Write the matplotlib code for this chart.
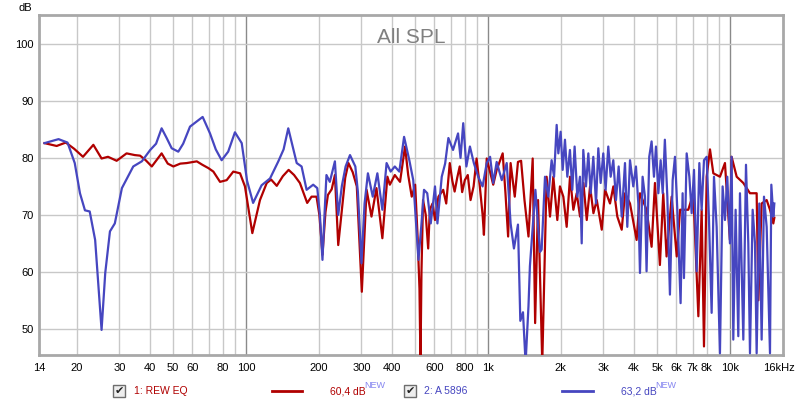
import matplotlib
matplotlib.use("Agg")
import matplotlib.pyplot as plt
from matplotlib.patches import Rectangle
from matplotlib.lines import Line2D

plt.rcParams['font.family'] = ['Liberation Sans', 'DejaVu Sans']

# --- data (Hz, dB) ---
red_freq = [14.7, 16.5, 18.0, 19.5, 21.2, 23.4, 25.3, 26.9, 29.2, 32.1, 34.7, 36.5, 38.5,
            40.8, 44.8, 47.5, 50.1, 53.5, 56.9, 62.6, 66.0, 70.0, 73.3, 78.1, 83.2, 88.6,
            94.5, 99.0, 106.2, 114.2, 121.8, 127, 134, 142, 150, 158, 167, 179, 186.6,
            195.6, 201, 207, 213, 218, 226, 233, 240.5, 248.6, 257, 265, 276, 287, 301,
            315, 330, 346, 366, 384, 393, 412, 433, 454, 468, 484, 500, 512, 521, 526,
            531, 539, 553, 566, 575, 590, 604, 624, 653, 672, 695, 712, 728, 746, 764,
            782, 802, 825, 847, 872, 897, 925, 950, 962, 988, 1051, 1086, 1150, 1180,
            1211, 1240, 1290, 1330, 1370, 1415, 1470, 1530, 1566, 1610, 1676,
            1747, 1804, 1862, 1934, 1983, 2048, 2114, 2182, 2253, 2326, 2401, 2479, 2559,
            2641, 2727, 2815, 2952, 3047, 3193, 3296, 3423, 3569, 3683, 3862, 4113, 4246,
            4521, 4743, 4897, 5133, 5299, 5469, 5740, 6024, 6219, 6726, 7055, 7401, 7636,
            7808, 8010, 8267, 8533, 9089, 9532, 9994, 10155, 10658, 11352, 12095, 12887,
            13100, 13515, 14175, 14632, 15103, 15250]
red_db = [82.6, 82.1, 82.7, 81.6, 80.2, 82.3, 79.9, 80.2, 79.5, 80.8, 80.5, 80.4, 79.6,
          78.5, 80.8, 79.0, 78.5, 79.0, 79.1, 79.4, 78.8, 78.2, 77.6, 75.8, 76.1, 77.6,
          77.3, 75.0, 66.8, 72.6, 75.6, 76.2, 75.1, 76.8, 77.9, 77.0, 75.6, 72.1, 73.2,
          73.2, 70.0, 63.0, 70.5, 73.5, 74.5, 77.0, 64.7, 70.6, 76.5, 79.1, 77.5, 75.0,
          56.5, 74.4, 69.7, 74.7, 65.9, 76.7, 75.3, 77.0, 75.8, 82.0, 77.0, 73.2, 75.3,
          66.0, 57.0, 44.0, 60.0, 72.6, 70.0, 64.1, 70.9, 72.0, 69.1, 73.2, 74.4, 72.0,
          79.1, 76.0, 74.1, 76.5, 78.5, 74.0, 76.1, 77.0, 72.6, 75.0, 79.9, 75.0, 70.0,
          66.5, 79.9, 75.3, 77.9, 80.8, 74.0, 66.2, 79.1, 73.2, 79.3, 79.5, 72.6, 66.2,
          79.9, 51.0, 72.6, 44.0,
          76.7, 69.7, 76.7, 69.1, 75.0, 73.2, 67.9, 76.7, 70.9, 73.8, 69.7, 75.6, 69.1,
          75.0, 70.3, 72.6, 67.4, 74.4, 72.0, 75.0, 69.7, 67.4, 73.8, 72.0, 65.6, 73.8,
          70.9, 64.4, 75.6, 61.2, 73.8, 62.7, 73.2, 62.7, 70.9, 70.9, 73.8, 52.2, 70.9,
          46.9, 76.7, 81.5, 77.3, 76.7, 79.1, 65.6, 80.2, 76.7, 75.6, 73.8, 73.8,
          55.0, 72.0, 72.6, 70.9, 68.5, 69.5]

blue_freq = [14.7, 16.8, 18.3, 19.6, 20.6, 21.6, 22.6, 23.8, 25.3, 26.2, 27.4, 28.7, 30.7,
             34.2, 37.1, 40.2, 42.5, 44.8, 47.0, 49.3, 52.5, 55.0, 58.7, 66.2, 71.0, 75.0,
             79.3, 84.4, 90.0, 96.0, 101, 107, 116, 125.7, 136, 143, 149.5, 156, 162,
             169.7, 178, 189.5, 197, 202, 207, 211, 215, 222, 233, 240.5, 249, 258, 269,
             283, 290, 300, 309, 319, 334, 349, 366, 381, 396, 412, 430, 450, 473, 491,
             516, 530, 544, 561, 580, 604, 618, 644, 665, 686, 717, 752, 770, 790, 814,
             842, 874, 911, 950, 988, 1020, 1051, 1086, 1140, 1195, 1240, 1280, 1330,
             1360, 1395, 1430, 1470, 1490, 1570, 1640,
             1666, 1720, 1775, 1832, 1875, 1922, 1953, 1996, 2035, 2080, 2127, 2181, 2230,
             2280, 2340, 2399, 2439, 2476, 2540, 2598, 2657, 2724, 2795, 2857, 2921, 2995,
             3062, 3141, 3213, 3295, 3380, 3467, 3569, 3682, 3764, 3862, 3984, 4087, 4180,
             4246, 4354, 4453, 4521, 4638, 4743, 4851, 4945, 5058, 5169, 5271, 5381, 5509,
             5647, 5796, 5925, 6058, 6250, 6371, 6453, 6622, 6793, 6944, 7101, 7282, 7470,
             7636, 7808, 8010, 8189, 8398, 8587, 8807, 9089, 9322, 9532, 9747, 9994, 10155,
             10319, 10550, 10822, 10996, 11352, 11644, 11903, 12095, 12407, 12684, 12887,
             13218, 13515, 13820, 14175, 14632, 14820, 15103, 15250]
blue_db = [82.6, 83.3, 82.7, 79.1, 73.8, 70.8, 70.6, 65.6, 49.8, 59.8, 67.1, 68.5, 74.7,
           78.5, 79.4, 81.4, 82.5, 85.2, 83.5, 81.7, 81.1, 82.5, 85.5, 87.2, 84.3, 81.5,
           79.6, 81.1, 84.5, 82.6, 76.0, 72.1, 75.2, 76.4, 79.4, 81.5, 85.2, 82.0, 79.1,
           78.5, 74.4, 75.3, 74.7, 70.0, 62.1, 70.0, 77.0, 75.8, 79.4, 70.0, 75.1, 78.5,
           80.5, 78.5, 74.0, 61.5, 72.0, 77.3, 73.2, 77.3, 70.9, 79.1, 77.6, 78.5, 77.6,
           83.7, 79.6, 76.1, 62.1, 68.0, 74.4, 73.8, 68.5, 75.0, 68.5, 76.7, 79.0, 83.5,
           81.4, 84.3, 80.0, 86.1, 78.5, 82.0, 79.1, 76.7, 75.0, 79.1, 80.2, 75.6, 79.3,
           76.1, 79.1, 68.5, 64.1, 68.3, 51.4, 52.9, 44.0, 54.0, 61.0, 74.4, 63.5,
           63.9, 76.7, 73.2, 79.6, 76.7, 85.8, 80.8, 84.6, 77.9, 83.2, 76.7, 81.4, 74.4,
           82.0, 73.2, 76.7, 65.0, 81.4, 75.0, 80.8, 73.8, 80.2, 72.0, 81.7, 75.6, 80.8,
           74.4, 82.0, 76.7, 79.6, 72.6, 78.5, 69.7, 79.1, 67.9, 79.6, 75.0, 78.5, 72.0,
           59.8, 76.7, 73.2, 60.1, 80.2, 82.9, 76.7, 82.0, 73.8, 79.6, 73.8, 83.2, 73.2,
           56.0, 76.1, 80.2, 70.9, 54.5, 73.8, 58.9, 80.8, 76.7, 70.3, 77.9, 60.1, 79.1,
           70.9, 79.6, 80.2, 69.1, 52.8, 76.7, 67.9, 45.7, 75.0, 69.1, 76.7, 65.0, 80.2,
           48.1, 70.9, 48.7, 73.8, 48.1, 78.8, 65.0, 45.7, 70.9, 65.0, 45.7,
           72.0, 48.1, 73.2, 67.9, 45.7, 75.3, 69.7, 72.0]

xtick_vals = [14, 20, 30, 40, 50, 60, 80, 100, 200, 300, 400, 600, 800, 1000, 2000, 3000,
              4000, 5000, 6000, 7000, 8000, 10000, 16000]
xtick_labels = ['14', '20', '30', '40', '50', '60', '80', '100', '200', '300', '400', '600',
                '800', '1k', '2k', '3k', '4k', '5k', '6k', '7k', '8k', '10k', '16kHz']
ytick_vals = [50, 60, 70, 80, 90, 100]

RED = '#B00000'
BLUE = '#4646C0'

fig = plt.figure(figsize=(8, 4.05), dpi=100)
ax = fig.add_axes([0.04875, 0.1235, 0.93, 0.8395])
ax.set_xscale('log')
ax.set_xlim(13.95, 16560)
ax.set_ylim(45.4, 105.1)

# grid: light lines at 2..9 of each decade, darker at decades
for dec in [10, 100, 1000, 10000]:
    for m in range(1, 10):
        f = dec * m
        if f <= 14 or f >= 16500:
            continue
        c = '#8A8A8A' if m == 1 else '#C8C8C8'
        ax.axvline(f, color=c, lw=1.0, zorder=1)
for y in ytick_vals:
    ax.axhline(y, color='#C8C8C8', lw=1.0, zorder=1)

ax.plot(red_freq, red_db, color=RED, lw=1.6, zorder=3)
ax.plot(blue_freq, blue_db, color=BLUE, lw=1.6, zorder=4)

ax.set_xticks(xtick_vals)
ax.set_xticklabels(xtick_labels)
ax.xaxis.set_minor_locator(matplotlib.ticker.NullLocator())
ax.set_yticks(ytick_vals)
ax.tick_params(axis='both', length=0, labelsize=8, colors='black')
ax.tick_params(axis='x', pad=6)
ax.tick_params(axis='y', pad=4)
for s in ax.spines.values():
    s.set_color('#A8A8A8')
    s.set_linewidth(2)

ax.text(0.5, 0.935, 'All SPL', transform=ax.transAxes, ha='center', va='center',
        fontsize=15, color='#808080')
fig.text(25 / 800, 1 - 8 / 405, 'dB', ha='center', va='center', fontsize=8)


# legend row, placed in pixel terms
def fx(px):
    return px / 800


def fy(py):
    return 1 - py / 405


def checkbox(px):
    fig.patches.append(Rectangle((fx(px), fy(397)), 12 / 800, 12 / 405,
                                 transform=fig.transFigure, fc='#EEEEEE', ec='#6E6E6E', lw=1))
    fig.text(fx(px + 6), fy(391), '\u2714', ha='center', va='center', fontsize=8,
             color='#222222', family=['DejaVu Sans'])


ly = fy(391)
checkbox(113)
fig.text(fx(134), ly, '1: REW EQ', ha='left', va='center', fontsize=7.5, color=RED)
fig.lines.append(Line2D([fx(272), fx(302)], [ly, ly], transform=fig.transFigure,
                        color=RED, lw=2))
fig.text(fx(330), ly, '60,4 dB', ha='left', va='center', fontsize=7.5, color=RED)
fig.text(fx(364), fy(385.5), 'NEW', ha='left', va='center', fontsize=6.5, color='#8484F0')

checkbox(404)
fig.text(fx(424), ly, '2: A 5896', ha='left', va='center', fontsize=7.5, color=BLUE)
fig.lines.append(Line2D([fx(562), fx(593)], [ly, ly], transform=fig.transFigure,
                        color=BLUE, lw=2))
fig.text(fx(621), ly, '63,2 dB', ha='left', va='center', fontsize=7.5, color=BLUE)
fig.text(fx(655), fy(385.5), 'NEW', ha='left', va='center', fontsize=6.5, color='#8484F0')

fig.savefig('out.png', dpi=100)
